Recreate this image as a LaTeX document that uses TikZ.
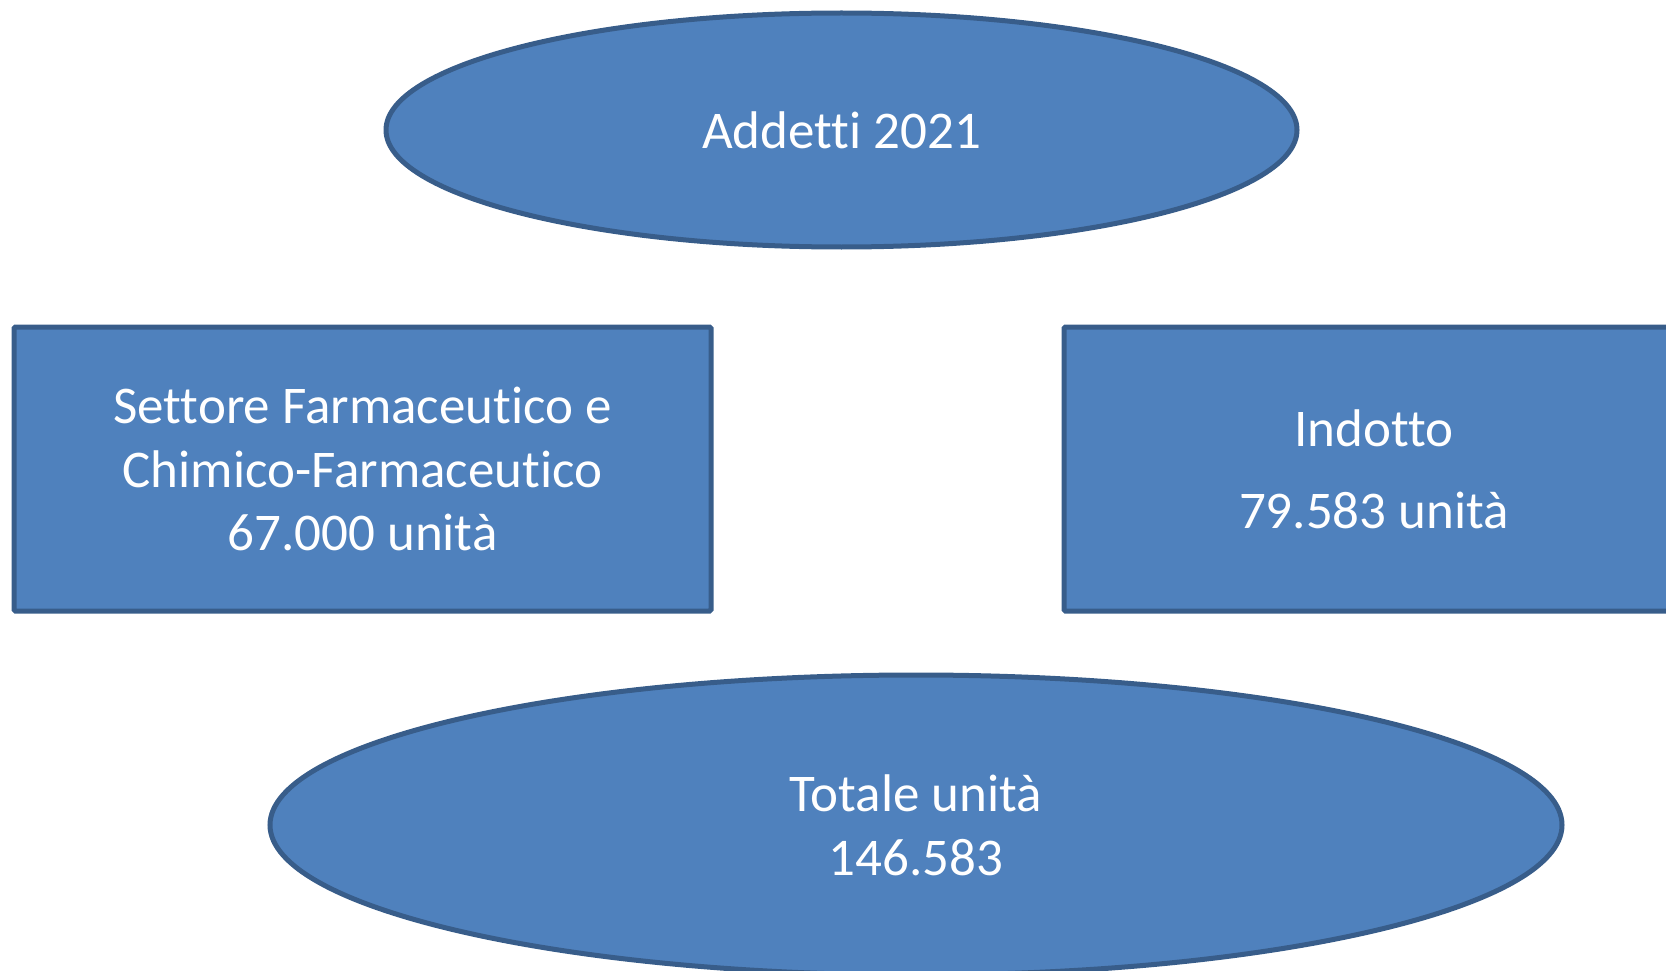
\documentclass[tikz,border=0pt]{standalone}
\usepackage{fontspec}
\setmainfont[Ligatures={NoCommon}]{Carlito}
\usetikzlibrary{shapes.geometric}
\definecolor{fillblue}{HTML}{4F81BD}
\definecolor{edgeblue}{HTML}{385D8A}
\tikzset{
  shapebase/.style={draw=edgeblue, fill=fillblue, line width=5pt, text=white, align=center, inner sep=0pt,
    font=\fontsize{53}{63.75}\selectfont},
  ovalbox/.style={shapebase, ellipse},
  rectbox/.style={shapebase, rectangle, rounded corners=1.5pt},
}
\begin{document}
\begin{tikzpicture}[x=1pt, y=-1pt]
\useasboundingbox (0,0) rectangle (1666,971);
\node[ovalbox, minimum width=911pt, minimum height=234pt] (top) at (841.5,130) {Addetti 2021};
\node[rectbox, minimum width=697pt, minimum height=284pt] (left) at (362.5,469) {Settore Farmaceutico e\\Chimico-Farmaceutico\\67.000 unità};
\node[rectbox, minimum width=620pt, minimum height=284pt] (right) at (1374,469) {Indotto\\[18pt]79.583 unità};
\node[ovalbox, minimum width=1292pt, minimum height=300pt] (total) at (916,825) {Totale unità\\146.583};
\end{tikzpicture}
\end{document}
